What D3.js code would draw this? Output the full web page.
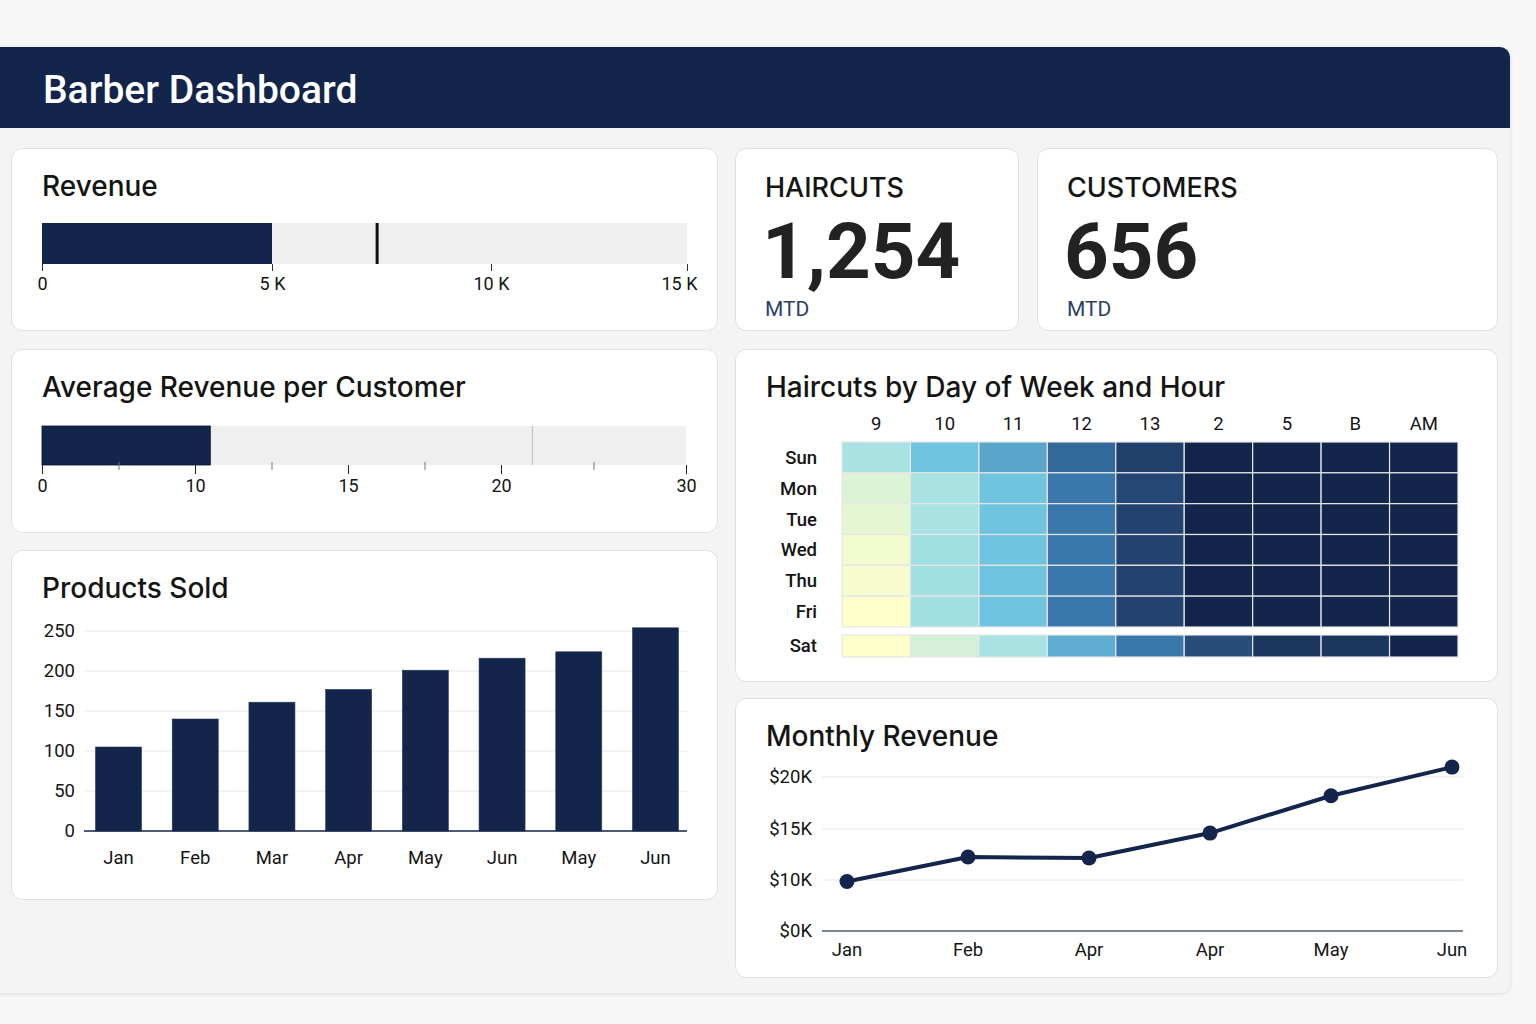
<!DOCTYPE html>
<html>
<head>
<meta charset="utf-8">
<script src="https://cdn.jsdelivr.net/npm/d3@7"></script>
<style>
  body { margin: 0; background: #f7f7f7; font-family: Roboto, "Liberation Sans", sans-serif; }
  svg { display: block; }
  text { fill: #141414; }
  .title { font-family: Inter, Roboto, sans-serif; font-size: 28px; font-weight: 500; }
</style>
</head>
<body>
<svg id="dash" width="1536" height="1024"></svg>
<script>
const revenueTicks = [0, 5000, 10000, 15000]
const revenueActual = 5000
const revenueTarget = 7400

const avgTicks = [0, 10, 15, 20, 30]
const avgMinorTicks = [5, 12.5, 17.5, 25]
const avgActual = 10.5
const avgTarget = 21.7

const kpiLabels = ['HAIRCUTS', 'CUSTOMERS']
const kpiValues = [1254, 656]
const kpiSub = ['MTD', 'MTD']

const productMonths = ['Jan', 'Feb', 'Mar', 'Apr', 'May', 'Jun', 'May', 'Jun']
const productValues = [105, 140, 161, 177, 201, 216, 224, 254]
const productTicks = [0, 50, 100, 150, 200, 250]

const days = ['Sun', 'Mon', 'Tue', 'Wed', 'Thu', 'Fri', 'Sat']
const hours = ['9', '10', '11', '12', '13', '2', '5', 'B', 'AM']
const haircutCounts = [
    [10, 20, 24, 33, 41, 50, 50, 50, 50],
    [4, 10, 20, 30, 39, 50, 50, 50, 50],
    [3, 10, 20, 30, 40, 50, 50, 50, 50],
    [1.5, 11, 20, 30, 40, 50, 50, 50, 50],
    [1, 11, 20, 30, 40, 50, 50, 50, 50],
    [0, 11, 20, 30, 40, 50, 50, 50, 50],
    [0, 5, 10, 23, 30, 38, 44, 44, 50]
]

const monthlyLabels = ['Jan', 'Feb', 'Apr', 'Apr', 'May', 'Jun']
const monthlyValues = [9700, 12250, 12150, 14600, 18200, 20950]
const monthlyTicks = [0, 10000, 15000, 20000]

const navy = '#13254a'
const svg = d3.select('#dash')

function renderFrame() {
    const defs = svg.append('defs')
    const f = defs.append('filter').attr('id', 'shadow').attr('x', '-5%').attr('y', '-5%').attr('width', '110%').attr('height', '110%')
    f.append('feDropShadow').attr('dx', 0).attr('dy', 1).attr('stdDeviation', 2).attr('flood-color', '#000').attr('flood-opacity', 0.12)

    svg.append('rect')
        .attr('x', -20).attr('y', 47).attr('width', 1530).attr('height', 946)
        .attr('rx', 10).attr('fill', '#f4f4f4').attr('filter', 'url(#shadow)')

    svg.append('path')
        .attr('d', 'M-20,128 V47 H1500 A10,10 0 0 1 1510,57 V128 Z')
        .attr('fill', navy)

    svg.append('text')
        .attr('x', 43).attr('y', 103)
        .style('font-size', '39px').style('font-weight', 500).style('fill', '#fff')
        .text('Barber Dashboard')
}

function card(x, y, w, h, title) {
    const g = svg.append('g')
    g.append('rect')
        .attr('x', x + 0.5).attr('y', y + 0.5).attr('width', w).attr('height', h)
        .attr('rx', 11).attr('fill', '#fff').attr('stroke', '#e1e1e1')
    if (title) {
        g.append('text')
            .attr('class', 'title')
            .attr('x', x + 31).attr('y', y + 48)
            .text(title)
    }
    return g
}

function renderRevenue() {
    const g = card(11, 148, 706, 182, 'Revenue')
    // uneven axis in the picture, so a piecewise scale
    const x = d3.scaleLinear().domain([0, 5000, 10000, 15000]).range([42, 272, 491, 687])
    const top = 223, h = 41

    g.append('rect').attr('x', x(0)).attr('y', top).attr('width', x(15000) - x(0)).attr('height', h).attr('fill', '#efefef')
    g.append('rect').attr('x', x(0)).attr('y', top).attr('width', x(revenueActual) - x(0)).attr('height', h).attr('fill', navy)
    g.append('line')
        .attr('x1', x(revenueTarget)).attr('x2', x(revenueTarget))
        .attr('y1', top).attr('y2', top + h)
        .attr('stroke', '#111').attr('stroke-width', 3)

    const axis = g.append('g')
        .attr('transform', `translate(0,${top + h})`)
        .call(d3.axisBottom(x).tickValues(revenueTicks).tickSize(7).tickPadding(6)
            .tickFormat(d => d === 0 ? '0' : (d / 1000) + ' K'))
    axis.select('.domain').remove()
    axis.selectAll('line').attr('stroke', '#333')
    axis.selectAll('text').style('font-size', '18px').style('font-family', 'Roboto').style('fill', '#141414')
    axis.selectAll('text').filter(d => d === 15000).attr('dx', -8)
}

function renderKpis() {
    const boxes = [[735, 148, 283, 182], [1037, 148, 460, 182]]
    boxes.forEach((b, i) => {
        const g = card(b[0], b[1], b[2], b[3])
        g.append('text')
            .attr('class', 'title')
            .attr('x', b[0] + 30).attr('y', b[1] + 49)
            .style('font-size', '27px')
            .text(kpiLabels[i])
        g.append('text')
            .attr('x', b[0] + 27).attr('y', b[1] + 130)
            .style('font-size', '78px').style('font-weight', 700).style('fill', '#222')
            .text(d3.format(',')(kpiValues[i]))
        g.append('text')
            .attr('x', b[0] + 30).attr('y', b[1] + 168)
            .style('font-size', '21px').style('fill', '#2b3f66')
            .text(kpiSub[i])
    })
}

function renderAverage() {
    const g = card(11, 349, 706, 183, 'Average Revenue per Customer')
    const x = d3.scaleLinear().domain([0, 10, 20, 30]).range([42, 195, 501, 686])
    const top = 426, h = 39

    g.append('rect').attr('x', x(0)).attr('y', top).attr('width', x(30) - x(0)).attr('height', h).attr('fill', '#efefef')
    g.append('rect').attr('x', x(0)).attr('y', top).attr('width', x(avgActual) - x(0)).attr('height', h)
        .attr('fill', navy).attr('stroke', '#0b1630').attr('stroke-width', 0.8)
    g.append('line')
        .attr('x1', x(avgTarget)).attr('x2', x(avgTarget))
        .attr('y1', top).attr('y2', top + h)
        .attr('stroke', '#c4c4c4').attr('stroke-width', 1.2)

    const minor = g.append('g')
        .attr('transform', `translate(0,${top + h - 3})`)
        .call(d3.axisBottom(x).tickValues(avgMinorTicks).tickSize(8).tickFormat(''))
    minor.select('.domain').remove()
    minor.selectAll('line').attr('stroke', '#777')

    const axis = g.append('g')
        .attr('transform', `translate(0,${top + h})`)
        .call(d3.axisBottom(x).tickValues(avgTicks).tickSize(9).tickPadding(5))
    axis.select('.domain').remove()
    axis.selectAll('line').attr('stroke', '#222')
    axis.selectAll('text').style('font-size', '18px').style('font-family', 'Roboto').style('fill', '#141414')
}

function renderProducts() {
    const g = card(11, 550, 706, 349, 'Products Sold')
    const x = d3.scaleBand().domain(d3.range(productValues.length)).range([84, 690]).paddingInner(0.4).paddingOuter(0.15)
    const y = d3.scaleLinear().domain([0, 250]).range([831, 631])

    g.append('g').selectAll('line')
        .data(productTicks.slice(1))
        .join('line')
        .attr('x1', 84).attr('x2', 687)
        .attr('y1', d => y(d)).attr('y2', d => y(d))
        .attr('stroke', '#e8e8e8')

    g.append('g').selectAll('text')
        .data(productTicks)
        .join('text')
        .attr('x', 75).attr('y', d => y(d)).attr('dy', '0.35em')
        .attr('text-anchor', 'end')
        .style('font-size', '18.5px')
        .text(d => d)

    g.append('g').selectAll('rect')
        .data(productValues)
        .join('rect')
        .attr('x', (d, i) => x(i)).attr('width', x.bandwidth())
        .attr('y', d => y(d)).attr('height', d => y(0) - y(d))
        .attr('fill', navy).attr('stroke', '#2c3b5c').attr('stroke-width', 0.6)

    g.append('line')
        .attr('x1', 84).attr('x2', 687).attr('y1', y(0)).attr('y2', y(0))
        .attr('stroke', navy).attr('stroke-width', 1.5)

    g.append('g').selectAll('text')
        .data(productMonths)
        .join('text')
        .attr('x', (d, i) => x(i) + x.bandwidth() / 2).attr('y', 858).attr('dy', '0.35em')
        .attr('text-anchor', 'middle')
        .style('font-size', '18.5px')
        .text(d => d)
}

function renderHeatmap() {
    const g = card(735, 349, 762, 332, 'Haircuts by Day of Week and Hour')
    const x = d3.scaleBand().domain(hours).range([842, 1458])
    const y = d3.scaleBand().domain(days.slice(0, 6)).range([442, 627])
    const satTop = 635, satH = 22
    const color = d3.scaleLinear()
        .domain([0, 10, 20, 30, 40, 50])
        .range(['#ffffcc', '#a8e2e3', '#6fc4e0', '#3a78ac', '#23426f', '#13254a'])

    const cells = []
    haircutCounts.forEach((row, r) => row.forEach((v, c) => cells.push({day: days[r], hour: hours[c], v})))

    g.append('g').selectAll('rect')
        .data(cells)
        .join('rect')
        .attr('x', d => x(d.hour)).attr('width', x.bandwidth())
        .attr('y', d => d.day === 'Sat' ? satTop : y(d.day))
        .attr('height', d => d.day === 'Sat' ? satH : y.bandwidth())
        .attr('fill', d => color(d.v))
        .attr('stroke', '#e6e6e6').attr('stroke-width', 1.2)

    g.append('g').selectAll('text')
        .data(hours)
        .join('text')
        .attr('x', d => x(d) + x.bandwidth() / 2).attr('y', 424).attr('dy', '0.35em')
        .attr('text-anchor', 'middle')
        .style('font-size', '18.5px')
        .text(d => d)

    g.append('g').selectAll('text')
        .data(days)
        .join('text')
        .attr('x', 817)
        .attr('y', d => d === 'Sat' ? satTop + satH / 2 : y(d) + y.bandwidth() / 2).attr('dy', '0.35em')
        .attr('text-anchor', 'end')
        .style('font-size', '18.5px').style('font-weight', 500)
        .text(d => d)
}

function renderMonthly() {
    const g = card(735, 698, 762, 279, 'Monthly Revenue')
    const x = d3.scalePoint().domain(d3.range(monthlyValues.length)).range([847, 1452])
    const y = d3.scaleLinear().domain([0, 10000, 15000, 20000]).range([931, 880, 829, 777])

    g.append('g').selectAll('line')
        .data(monthlyTicks)
        .join('line')
        .attr('x1', 822).attr('x2', 1463)
        .attr('y1', d => y(d)).attr('y2', d => y(d))
        .attr('stroke', d => d === 0 ? '#7d8796' : '#e8e8e8')
        .attr('stroke-width', d => d === 0 ? 2 : 1)

    g.append('g').selectAll('text')
        .data(monthlyTicks)
        .join('text')
        .attr('x', 812).attr('y', d => y(d)).attr('dy', '0.35em')
        .attr('text-anchor', 'end')
        .style('font-size', '18.5px')
        .text(d => '$' + (d / 1000) + 'K')

    const line = d3.line().x((d, i) => x(i)).y(d => y(d))
    g.append('path')
        .datum(monthlyValues)
        .attr('d', line)
        .attr('fill', 'none').attr('stroke', navy).attr('stroke-width', 4).attr('stroke-linejoin', 'round')

    g.append('g').selectAll('circle')
        .data(monthlyValues)
        .join('circle')
        .attr('cx', (d, i) => x(i)).attr('cy', d => y(d)).attr('r', 7.5)
        .attr('fill', navy)

    g.append('g').selectAll('text')
        .data(monthlyLabels)
        .join('text')
        .attr('x', (d, i) => x(i)).attr('y', 950).attr('dy', '0.35em')
        .attr('text-anchor', 'middle')
        .style('font-size', '18.5px')
        .text(d => d)
}

function render() {
    renderFrame()
    renderRevenue()
    renderKpis()
    renderAverage()
    renderProducts()
    renderHeatmap()
    renderMonthly()
}

render()
</script>
</body>
</html>
